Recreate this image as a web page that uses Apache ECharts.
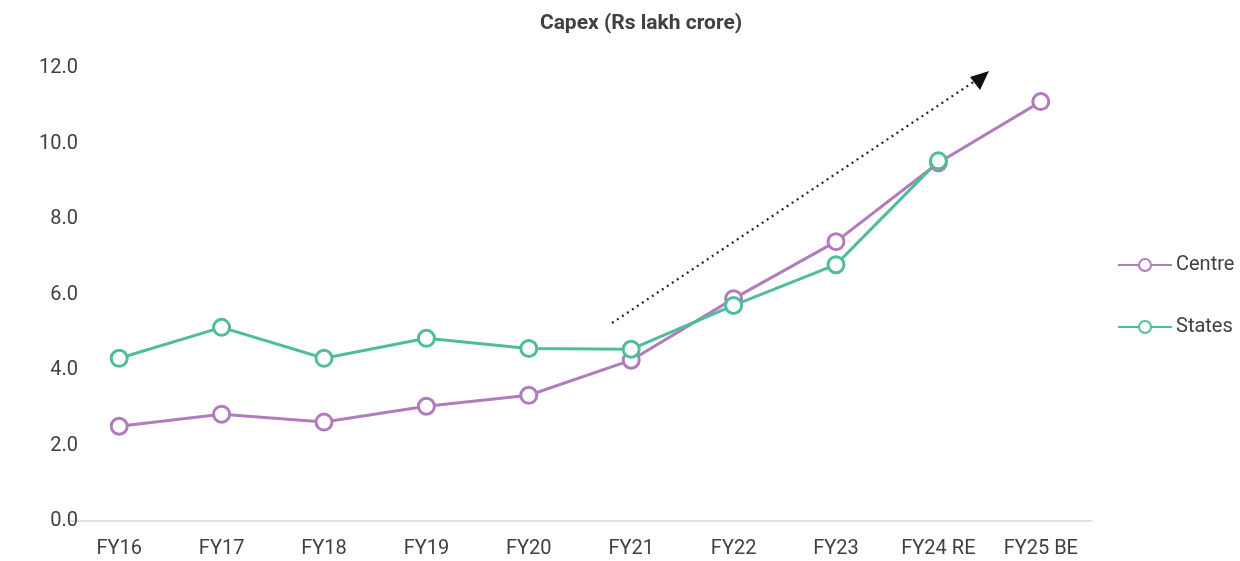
<!DOCTYPE html>
<html><head><meta charset="utf-8">
<script src="https://cdn.jsdelivr.net/npm/echarts@6/dist/echarts.min.js"></script>
<style>html,body{margin:0;padding:0;background:#fff}#c{width:1240px;height:561px}</style>
</head><body><div id="c"></div>
<script>
const categories = ['FY16','FY17','FY18','FY19','FY20','FY21','FY22','FY23','FY24 RE','FY25 BE'];
const centre = [2.51, 2.83, 2.62, 3.04, 3.33, 4.26, 5.89, 7.40, 9.49, 11.11];
const states = [4.31, 5.13, 4.31, 4.84, 4.57, 4.55, 5.71, 6.79, 9.54, null];
const yTicks = [0, 2, 4, 6, 8, 10, 12];

const chart = echarts.init(document.getElementById('c'));
const font = 'Roboto, "Noto Sans", sans-serif';
const mk = (name, data, color) => ({
  name, type: 'line', data,
  symbol: 'circle', symbolSize: 16,
  lineStyle: { color, width: 3 },
  itemStyle: { color: '#fff', borderColor: color, borderWidth: 3 },
  emphasis: { disabled: true }
});
chart.setOption({
  animation: false,
  textStyle: { fontFamily: font },
  title: { text: 'Capex (Rs lakh crore)', left: 636, top: 8, textAlign: 'center',
    textStyle: { fontSize: 21, fontWeight: 'bold', color: '#404040', fontFamily: font } },
  legend: {
    orient: 'vertical', left: 1112, top: 250, itemGap: 42, itemWidth: 54, itemHeight: 15,
    textStyle: { fontSize: 20, color: '#404040', padding: [0,0,0,-1] },
    data: ['Centre', 'States']
  },
  grid: { left: 68, right: 148, top: 68, bottom: 40 },
  xAxis: {
    type: 'category', data: categories, boundaryGap: true,
    axisLine: { lineStyle: { color: '#d9d9d9', width: 1.5 } },
    axisTick: { show: false },
    axisLabel: { fontSize: 20, color: '#404040', margin: 18 }
  },
  yAxis: {
    type: 'value', min: 0, max: 12, interval: 2,
    axisLine: { show: false }, axisTick: { show: false },
    splitLine: { show: false },
    axisLabel: { fontSize: 20, color: '#404040', margin: -10, formatter: v => v.toFixed(1) }
  },
  series: [ mk('Centre', centre, '#b07cbd'), mk('States', states, '#4fbd9a') ],
  graphic: [
    { type: 'line', shape: { x1: 612, y1: 323, x2: 978, y2: 79 },
      style: { stroke: '#222', lineWidth: 2.2, lineDash: [2, 4] } },
    { type: 'polygon', shape: { points: [[989, 71], [970, 77], [980, 90]] },
      style: { fill: '#111' } }
  ]
});
</script></body></html>
